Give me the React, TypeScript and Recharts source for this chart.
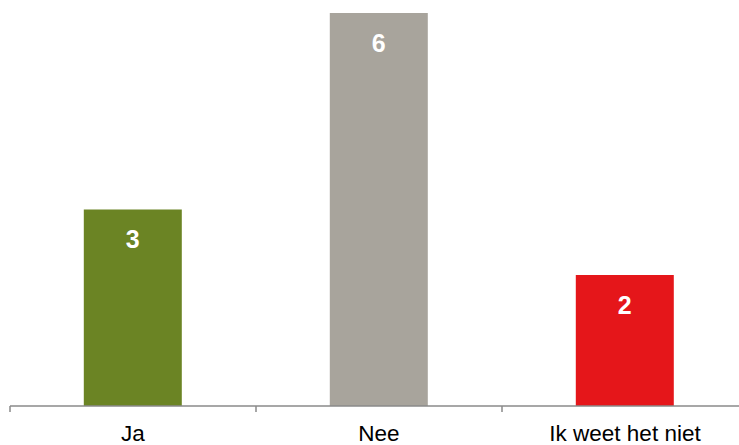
import React from 'react';
import { BarChart, Bar, XAxis, YAxis, Cell, LabelList } from 'recharts';

const categories = ['Ja', 'Nee', 'Ik weet het niet'];
const counts = [3, 6, 2];
const barColors = ['#6B8424', '#A8A49C', '#E5161A'];

const data = categories.map((name, i) => ({ name, value: counts[i] }));

const CHART_W = 760;
const MARGIN = { top: 13, right: 12, left: 10, bottom: 0 };
const BAND = (CHART_W - MARGIN.left - MARGIN.right) / categories.length;

const CategoryTick = (props: any) => {
  const { x, y, payload, index } = props;
  const isLast = index === categories.length - 1;
  return (
    <g>
      <line x1={x - BAND / 2} x2={x - BAND / 2} y1={y} y2={y + 6} stroke="#8a8a8a" strokeWidth={1.5} />
      {isLast && (
        <line x1={x + BAND / 2} x2={x + BAND / 2} y1={y} y2={y + 6} stroke="#8a8a8a" strokeWidth={1.5} />
      )}
      <text
        x={x}
        y={y + 35}
        textAnchor="middle"
        fill="#000"
        fontFamily="'Liberation Sans', Arial, sans-serif"
        fontSize={22.5}
      >
        {payload.value}
      </text>
    </g>
  );
};

const App: React.FC = () => {
  return (
    <div style={{ position: 'absolute', left: 0, top: 0, width: 739, height: 445, overflow: 'hidden', background: '#fff' }}>
      <BarChart width={CHART_W} height={445} data={data} margin={MARGIN} barCategoryGap="30%">
        <XAxis
          dataKey="name"
          height={39}
          axisLine={{ stroke: '#8a8a8a', strokeWidth: 1.5 }}
          tickLine={false}
          tickSize={0}
          tickMargin={0}
          tick={<CategoryTick />}
          interval={0}
        />
        <YAxis hide domain={[0, 6]} />
        <Bar dataKey="value" isAnimationActive={false}>
          {data.map((entry, i) => (
            <Cell key={`cell-${i}`} fill={barColors[i]} />
          ))}
          <LabelList
            dataKey="value"
            position="insideTop"
            offset={21}
            fill="#fff"
            fontFamily="'Liberation Sans', Arial, sans-serif"
            fontWeight="bold"
            fontSize={25}
          />
        </Bar>
      </BarChart>
    </div>
  );
};

export default App;
